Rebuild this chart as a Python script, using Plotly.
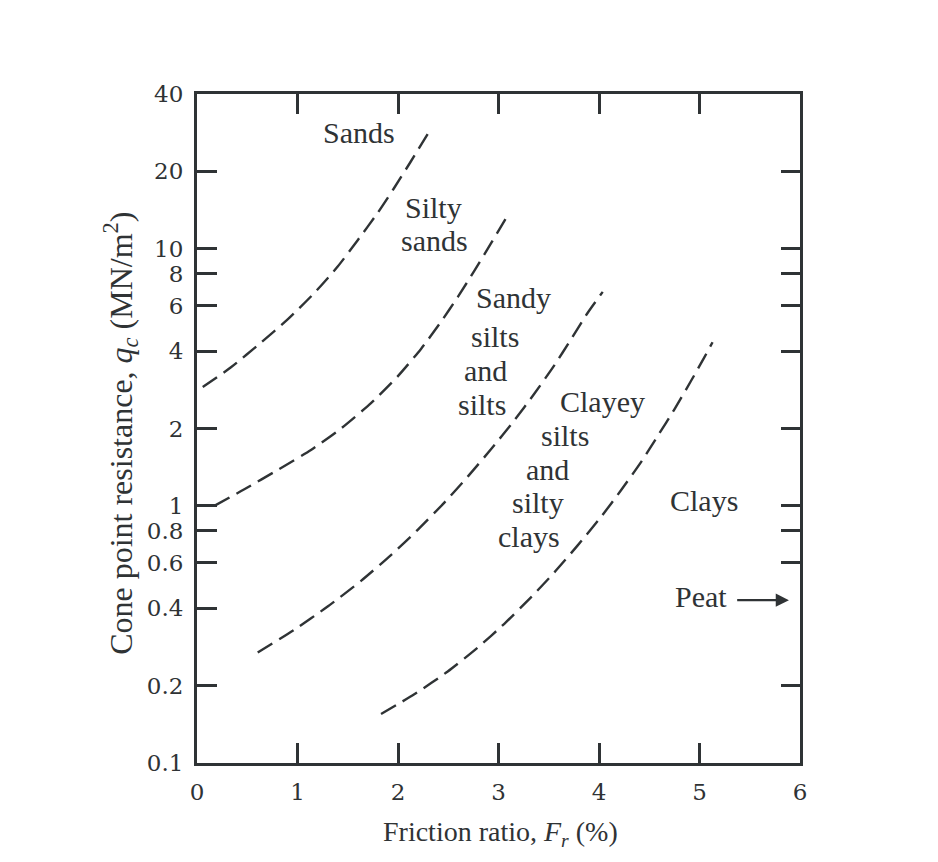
import plotly.graph_objects as go
import numpy as np

# ---- data ----
# Boundary curves: friction ratio Fr (%) and cone point resistance qc (MN/m2)
b1_x = [0.057, 0.338, 0.637, 0.902, 1.164, 1.40, 1.599, 1.798, 1.960, 2.129, 2.308]
b1_q = [2.90, 3.46, 4.32, 5.31, 6.71, 8.53, 10.8, 13.8, 17.2, 21.9, 28.5]

b2_x = [0.172, 0.471, 0.803, 1.134, 1.433, 1.731, 1.997, 2.229, 2.428, 2.594, 2.759, 2.925, 3.107]
b2_q = [1.0, 1.16, 1.38, 1.65, 2.0, 2.51, 3.19, 4.08, 5.2, 6.49, 8.2, 10.5, 13.8]

b3_x = [0.604, 0.968, 1.30, 1.632, 1.930, 2.196, 2.461, 2.694, 2.925, 3.157, 3.356, 3.555,
        3.721, 3.888, 4.037]
b3_q = [0.269, 0.330, 0.406, 0.511, 0.644, 0.807, 1.03, 1.30, 1.66, 2.15, 2.73, 3.52,
        4.44, 5.64, 6.8]

b4_x = [1.831, 2.162, 2.495, 2.793, 3.058, 3.323, 3.555, 3.788, 4.02, 4.219, 4.418, 4.584,
        4.749, 4.915, 5.048, 5.13]
b4_q = [0.155, 0.185, 0.227, 0.281, 0.348, 0.441, 0.551, 0.702, 0.906, 1.15, 1.48, 1.87,
        2.37, 3.06, 3.78, 4.33]

# zone labels (one entry per text line)
label_text = ["Sands", "Silty", "sands", "Sandy", "silts", "and", "silts",
              "Clayey", "silts", "and", "silty", "clays", "Clays", "Peat"]
label_x = [1.607, 2.353, 2.363, 3.149, 2.965, 2.866, 2.836,
           4.03, 3.662, 3.488, 3.39, 3.303, 5.045, 5.015]
label_q = [26.6, 13.6, 10.1, 6.07, 4.29, 3.17, 2.32,
           2.40, 1.77, 1.30, 0.965, 0.712, 0.99, 0.416]

peat_arrow_from_x = 5.36
peat_arrow_to_x = 5.89
peat_q = 0.43

x_tickvals = [0, 1, 2, 3, 4, 5, 6]
y_tickvals = [0.1, 0.2, 0.4, 0.6, 0.8, 1, 2, 4, 6, 8, 10, 20, 40]
y_ticktext = ["0.1", "0.2", "0.4", "0.6", "0.8", "1", "2", "4", "6", "8", "10", "20", "40"]
y_right_tickvals = [0.2, 0.6, 0.8, 1, 2, 4, 6, 8, 10, 20]

INK = "#2f3335"
SERIF = "Liberation Serif, Times New Roman, serif"
TICKFONT = "DejaVu Serif, serif"

fig = go.Figure()
for xs, qs in [(b1_x, b1_q), (b2_x, b2_q), (b3_x, b3_q), (b4_x, b4_q)]:
    fig.add_trace(go.Scatter(
        x=xs, y=qs, mode="lines",
        line=dict(color=INK, width=2.4, dash="17px,8px", shape="spline", smoothing=0.6),
        showlegend=False, hoverinfo="skip"))

# invisible trace carrying the right-hand axis ticks
fig.add_trace(go.Scatter(x=[None], y=[None], yaxis="y2", showlegend=False))

annotations = []
for t, x, q in zip(label_text, label_x, label_q):
    annotations.append(dict(x=x, y=np.log10(q), xref="x", yref="y", text=t,
                            showarrow=False, font=dict(family=SERIF, size=30, color=INK),
                            xanchor="center", yanchor="middle", yshift=7))
# Peat arrow
annotations.append(dict(x=peat_arrow_to_x, y=np.log10(peat_q), xref="x", yref="y",
                        ax=peat_arrow_from_x, ay=np.log10(peat_q), axref="x", ayref="y",
                        text="", showarrow=True, arrowhead=2, arrowsize=1.1,
                        arrowwidth=2.4, arrowcolor=INK))
# axis titles
annotations.append(dict(x=0.504, y=-0.105, xref="paper", yref="paper",
                        text="Friction ratio, <i>F</i><sub><i>r</i></sub> (%)",
                        showarrow=False, font=dict(family=SERIF, size=28, color=INK),
                        xanchor="center", yanchor="middle"))
annotations.append(dict(x=-0.126, y=0.492, xref="paper", yref="paper",
                        text="Cone point resistance, <i>q</i><sub><i>c</i></sub> (MN/m<sup>2</sup>)",
                        textangle=-90, showarrow=False,
                        font=dict(family=SERIF, size=32, color=INK),
                        xanchor="center", yanchor="middle"))

fig.update_layout(
    width=938, height=862,
    margin=dict(l=189, r=146, t=86, b=107),
    paper_bgcolor="white", plot_bgcolor="white",
    xaxis=dict(range=[0, 6], tickvals=x_tickvals, ticks="inside", ticklen=20, tickwidth=2.5,
               tickcolor=INK, showline=True, linecolor=INK, linewidth=3, mirror="ticks",
               showgrid=False, zeroline=False, ticklabelstandoff=6,
               tickfont=dict(family=TICKFONT, size=23, color=INK)),
    yaxis=dict(type="log", range=[-1, np.log10(40)], tickvals=y_tickvals, ticktext=y_ticktext,
               ticks="inside", ticklen=20, tickwidth=2.5, tickcolor=INK,
               showline=True, linecolor=INK, linewidth=3, mirror=True,
               showgrid=False, zeroline=False, ticklabelstandoff=6,
               tickfont=dict(family=TICKFONT, size=23, color=INK)),
    yaxis2=dict(type="log", range=[-1, np.log10(40)], overlaying="y", side="right",
                tickvals=y_right_tickvals, ticks="inside", ticklen=19, tickwidth=2.5,
                tickcolor=INK, showticklabels=False, showgrid=False, zeroline=False,
                showline=False),
    annotations=annotations,
)

fig.write_html("out.html")
